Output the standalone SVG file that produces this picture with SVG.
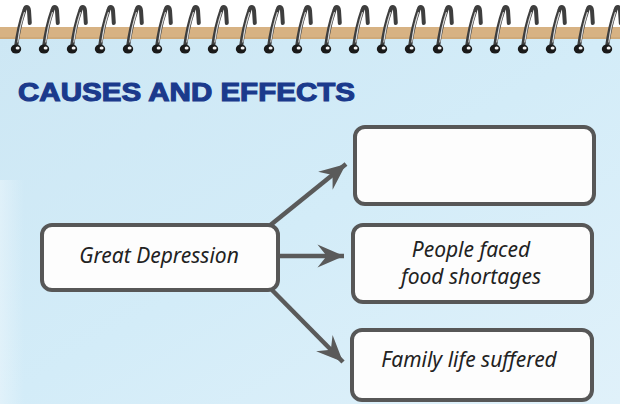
<svg xmlns="http://www.w3.org/2000/svg" width="620" height="404" viewBox="0 0 620 404">
<defs>
<linearGradient id="bg" x1="0" y1="0" x2="1" y2="1">
<stop offset="0" stop-color="#cde7f4"/>
<stop offset="0.5" stop-color="#d3ecf8"/>
<stop offset="1" stop-color="#e0f1fa"/>
</linearGradient>
<linearGradient id="leftStrip" x1="0" y1="0" x2="1" y2="0">
<stop offset="0" stop-color="#eaf5fb" stop-opacity="0.6"/>
<stop offset="1" stop-color="#eaf5fb" stop-opacity="0"/>
</linearGradient>
<marker id="ah" markerUnits="userSpaceOnUse" markerWidth="30" markerHeight="30" viewBox="-24 -12 26 24" refX="0" refY="0" orient="auto">
<path d="M0,0 L-23,-10 L-15,0 L-23,10 Z" fill="#5a5a5a"/>
</marker>
<g id="ring">
<path d="M0,45 C2,30 5,18 8.5,8 C9.5,4 12.5,4 13,8.5 L13.8,21" fill="none" stroke="#3e3e3e" stroke-width="4" stroke-linecap="round" stroke-linejoin="round"/>
<path d="M1.8,40 C3,30 5.5,19 8.4,10.5" fill="none" stroke="#d9d9d9" stroke-width="1.1" stroke-linecap="round"/>
<ellipse cx="0" cy="47" rx="5.2" ry="4.5" fill="#1a1a1a"/>
<ellipse cx="1.6" cy="46" rx="2" ry="1.5" fill="#f4f4f4"/>
</g>
</defs>
<style>
.box{fill:#fdfdfd;stroke:#575757;stroke-width:4}
.lbl{font-family:"Noto Sans","DejaVu Sans",sans-serif;font-style:italic;font-size:21px;fill:#222;text-anchor:middle}
.conn{fill:none;stroke:#5a5a5a;stroke-width:4.5;marker-end:url(#ah)}
.title{font-family:"Liberation Sans",Arial,sans-serif;font-weight:bold;font-size:25px;fill:#1b3a8c;stroke:#1b3a8c;stroke-width:1.1}
</style>
<rect x="0" y="0" width="620" height="404" fill="#ffffff"/>
<rect x="0" y="34" width="620" height="370" fill="url(#bg)"/>
<rect x="0" y="180" width="24" height="224" fill="url(#leftStrip)"/>
<rect x="0" y="27" width="620" height="12" fill="#d7b283"/>
<rect x="0" y="37" width="620" height="2" fill="#c9a574" opacity="0.6"/>
<g id="spiral">
<use href="#ring" x="16" y="2"/>
<use href="#ring" x="44" y="2"/>
<use href="#ring" x="72" y="2"/>
<use href="#ring" x="100" y="2"/>
<use href="#ring" x="128" y="2"/>
<use href="#ring" x="157" y="2"/>
<use href="#ring" x="185" y="2"/>
<use href="#ring" x="213" y="2"/>
<use href="#ring" x="241" y="2"/>
<use href="#ring" x="269" y="2"/>
<use href="#ring" x="297" y="2"/>
<use href="#ring" x="326" y="2"/>
<use href="#ring" x="354" y="2"/>
<use href="#ring" x="382" y="2"/>
<use href="#ring" x="410" y="2"/>
<use href="#ring" x="438" y="2"/>
<use href="#ring" x="467" y="2"/>
<use href="#ring" x="495" y="2"/>
<use href="#ring" x="523" y="2"/>
<use href="#ring" x="551" y="2"/>
<use href="#ring" x="579" y="2"/>
<use href="#ring" x="607" y="2"/>
</g>
<text class="title" x="18" y="101" textLength="337" lengthAdjust="spacingAndGlyphs">CAUSES AND EFFECTS</text>
<g id="connectors">
<line class="conn" x1="268" y1="227" x2="346" y2="164"/>
<line class="conn" x1="280" y1="256" x2="344" y2="256"/>
<line class="conn" x1="272" y1="290" x2="343" y2="362"/>
</g>
<g id="cause">
<rect class="box" x="42" y="225" width="236" height="65" rx="10"/>
<text class="lbl" x="159" y="263">Great Depression</text>
</g>
<g id="effect1">
<rect class="box" x="355" y="127" width="239" height="77" rx="10"/>
</g>
<g id="effect2">
<rect class="box" x="353" y="225" width="239" height="77" rx="10"/>
<text class="lbl" x="471" y="257">People faced</text>
<text class="lbl" x="471" y="284">food shortages</text>
</g>
<g id="effect3">
<rect class="box" x="352" y="330" width="240" height="70" rx="10"/>
<text class="lbl" x="469" y="367">Family life suffered</text>
</g>
</svg>
